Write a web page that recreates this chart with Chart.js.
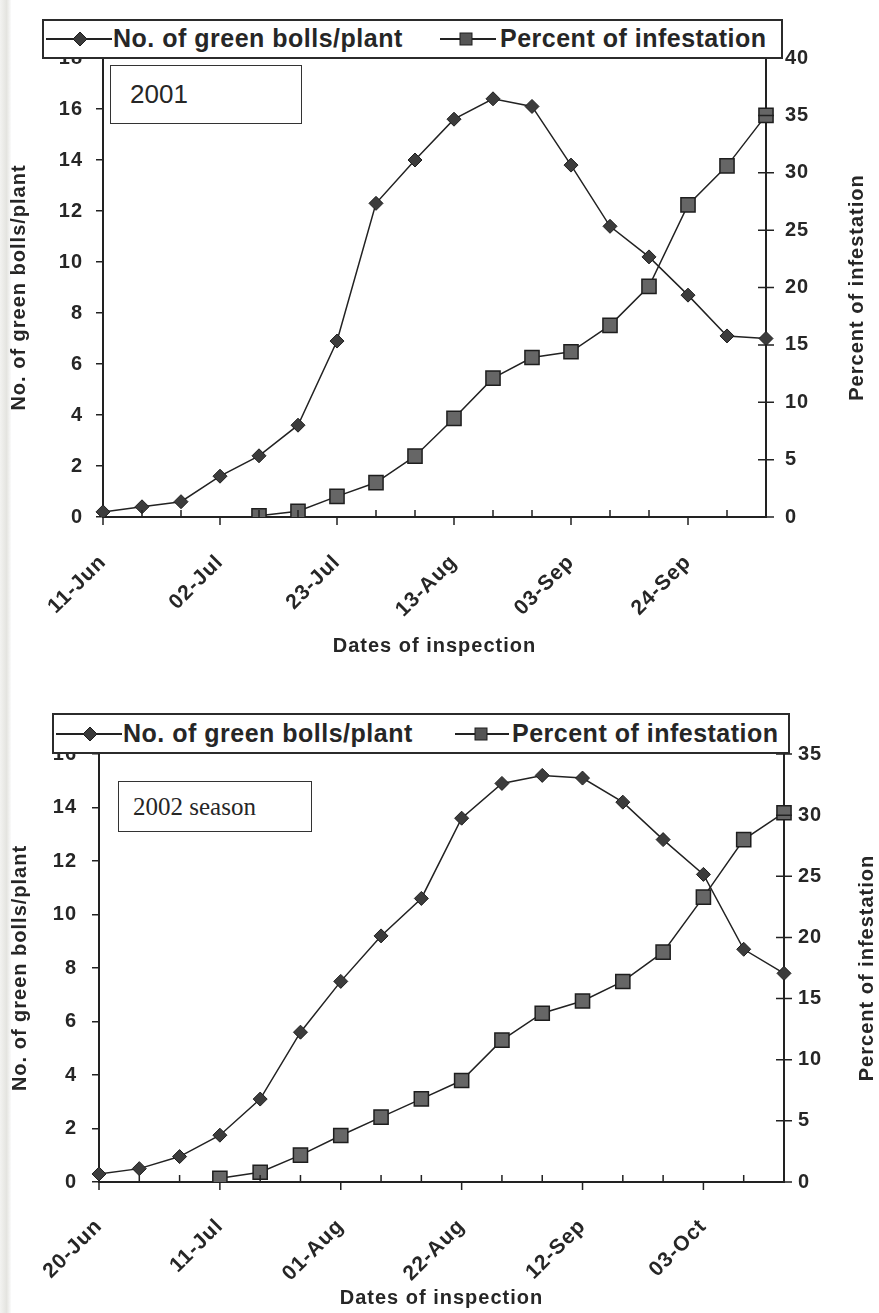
<!DOCTYPE html>
<html>
<head>
<meta charset="utf-8">
<script src="https://cdn.jsdelivr.net/npm/chart.js@4.4.1/dist/chart.umd.min.js"></script>
<style>
  body { margin: 0; background: #fff; width: 879px; height: 1313px; position: relative; overflow: hidden;
         font-family: "Liberation Sans", Arial, sans-serif; color: #262626; }
  .strip { position: absolute; left: 0; top: 0; width: 11px; height: 1313px;
           background: linear-gradient(to right, #f3f3f1, #e4e4e0 60%, #fbfbfb); }
  canvas { position: absolute; left: 0; }
  .legend { position: absolute; background: #fff; border: 2px solid #2b2b2b; box-sizing: border-box; z-index: 2; }
  .legend svg { position: absolute; top: 50%; transform: translateY(-50%); }
  .legend span { position: absolute; top: 50%; transform: translateY(-53%); font-weight: bold; font-size: 25px;
                 letter-spacing: 0.5px; white-space: nowrap; }
  .season { position: absolute; background: #fff; border: 1.5px solid #333; box-sizing: border-box; z-index: 2;
            display: flex; align-items: center; }
</style>
</head>
<body>
<div class="strip"></div>

<canvas id="chart2001" width="879" height="680" style="top:0"></canvas>
<canvas id="chart2002" width="879" height="633" style="top:680px"></canvas>

<div class="legend" style="left:42px; top:19px; width:741px; height:40px">
  <svg width="66" height="16" style="left:2px"><line x1="0" y1="8" x2="66" y2="8" stroke="#222" stroke-width="2"/><polygon points="34,1 41,8 34,15 27,8" fill="#3a3a3a" stroke="#1e1e1e"/></svg>
  <span style="left:69px">No. of green bolls/plant</span>
  <svg width="56" height="16" style="left:396px"><line x1="0" y1="8" x2="56" y2="8" stroke="#222" stroke-width="2"/><rect x="20" y="2" width="12" height="12" fill="#555" stroke="#1e1e1e"/></svg>
  <span style="left:456px">Percent of infestation</span>
</div>
<div class="season" style="left:110px; top:65px; width:192px; height:59px; font-size:26px; padding-left:19px">2001</div>

<div class="legend" style="left:52px; top:713px; width:738px; height:41px">
  <svg width="66" height="16" style="left:2px"><line x1="0" y1="8" x2="66" y2="8" stroke="#222" stroke-width="2"/><polygon points="34,1 41,8 34,15 27,8" fill="#3a3a3a" stroke="#1e1e1e"/></svg>
  <span style="left:69px">No. of green bolls/plant</span>
  <svg width="54" height="16" style="left:401px"><line x1="0" y1="8" x2="54" y2="8" stroke="#222" stroke-width="2"/><rect x="20" y="2" width="12" height="12" fill="#555" stroke="#1e1e1e"/></svg>
  <span style="left:458px">Percent of infestation</span>
</div>
<div class="season" style="left:118px; top:781px; width:194px; height:51px; font-size:25px; padding-left:14px; font-family:'Liberation Serif','Times New Roman',serif">2002 season</div>

<script>
// 2001 season - weekly inspections
const dates2001 = ['11-Jun', '18-Jun', '25-Jun', '02-Jul', '09-Jul', '16-Jul', '23-Jul', '30-Jul', '06-Aug',
                   '13-Aug', '20-Aug', '27-Aug', '03-Sep', '10-Sep', '17-Sep', '24-Sep', '01-Oct', '08-Oct'];
const shownDates2001 = ['11-Jun', '02-Jul', '23-Jul', '13-Aug', '03-Sep', '24-Sep'];
const bolls2001 = [0.2, 0.4, 0.6, 1.6, 2.4, 3.6, 6.9, 12.3, 14.0, 15.6, 16.4, 16.1, 13.8, 11.4, 10.2, 8.7, 7.1, 7.0];
const infest2001 = [null, null, null, null, 0.1, 0.5, 1.8, 3.0, 5.3, 8.6, 12.1, 13.9, 14.4, 16.7, 20.1, 27.2, 30.6, 35.0];

// 2002 season
const dates2002 = ['20-Jun', '27-Jun', '04-Jul', '11-Jul', '18-Jul', '25-Jul', '01-Aug', '08-Aug', '15-Aug',
                   '22-Aug', '29-Aug', '05-Sep', '12-Sep', '19-Sep', '26-Sep', '03-Oct', '10-Oct', '17-Oct'];
const shownDates2002 = ['20-Jun', '11-Jul', '01-Aug', '22-Aug', '12-Sep', '03-Oct'];
const bolls2002 = [0.3, 0.5, 0.95, 1.75, 3.1, 5.6, 7.5, 9.2, 10.6, 13.6, 14.9, 15.2, 15.1, 14.2, 12.8, 11.5, 8.7, 7.8];
const infest2002 = [null, null, null, 0.3, 0.8, 2.2, 3.8, 5.3, 6.8, 8.3, 11.6, 13.8, 14.8, 16.4, 18.8, 23.3, 28.0, 30.2];

// axis ranges
const bollsMax2001 = 18, infestMax2001 = 40;
const bollsMax2002 = 16, infestMax2002 = 35;

Chart.defaults.font.family = '"Liberation Sans", Arial, sans-serif';
Chart.defaults.color = '#262626';

const ink = '#222';
const rightTitle = 'Percent of infestation';

// x ticks: long ones below the axis under labelled dates, short ones inside elsewhere;
// right axis ticks cross the axis line; right title reads bottom to top like the left one
function tickMarks(shown, titleX) {
    return {
        id: 'tickMarks',
        beforeDraw(chart) { chart.ctx.letterSpacing = '1px'; },
        afterDraw(chart) {
            const { ctx, chartArea } = chart;
            const x = chart.scales.x, y1 = chart.scales.y1;
            ctx.save();
            ctx.strokeStyle = ink;
            ctx.lineWidth = 1.5;
            ctx.beginPath();
            chart.data.labels.forEach((lab, i) => {
                const px = x.getPixelForValue(i);
                ctx.moveTo(px, chartArea.bottom);
                ctx.lineTo(px, chartArea.bottom + (shown.includes(lab) ? 8 : -7));
            });
            y1.ticks.forEach((t, i) => {
                const py = y1.getPixelForTick(i);
                ctx.moveTo(chartArea.right - 8, py);
                ctx.lineTo(chartArea.right + 8, py);
            });
            ctx.stroke();

            ctx.translate(titleX, (chartArea.top + chartArea.bottom) / 2);
            ctx.rotate(-Math.PI / 2);
            ctx.font = 'bold 20px "Liberation Sans", Arial, sans-serif';
            ctx.fillStyle = '#262626';
            ctx.textAlign = 'center';
            ctx.textBaseline = 'middle';
            ctx.fillText(rightTitle, 0, 0);
            ctx.restore();
        }
    };
}

function makeChart(id, labels, shown, bolls, infest, geo) {
    const titleFont = { size: 20, weight: 'bold', lineHeight: 1.2 };
    const tickFont = { size: 20, weight: 'bold' };
    new Chart(document.getElementById(id), {
        type: 'line',
        data: {
            labels: labels,
            datasets: [{
                label: 'No. of green bolls/plant',
                data: bolls,
                yAxisID: 'y',
                borderColor: ink,
                borderWidth: 1.5,
                pointStyle: 'rectRot',
                pointRadius: 7,
                pointBackgroundColor: '#3c3c3c',
                pointBorderColor: '#1e1e1e',
                pointBorderWidth: 1
            }, {
                label: rightTitle,
                data: infest,
                yAxisID: 'y1',
                borderColor: ink,
                borderWidth: 1.5,
                pointStyle: 'rect',
                pointRadius: 10,
                pointBackgroundColor: '#666',
                pointBorderColor: '#1e1e1e',
                pointBorderWidth: 1.5
            }]
        },
        options: {
            responsive: false,
            animation: false,
            layout: { padding: { top: geo.top, left: 0, right: 0, bottom: 0 } },
            plugins: { legend: { display: false }, tooltip: { enabled: false } },
            scales: {
                x: {
                    type: 'category',
                    offset: false,
                    afterFit: s => { s.height = geo.xHeight; },
                    grid: { display: false },
                    border: { display: true, color: ink, width: 2 },
                    ticks: {
                        autoSkip: false, minRotation: 45, maxRotation: 45, padding: geo.xPad,
                        font: { size: 21, weight: 'bold' },
                        callback: (v, i) => shown.includes(labels[i]) ? labels[i] : ''
                    },
                    title: { display: true, text: 'Dates of inspection', font: titleFont, padding: { top: 0, bottom: geo.xTitlePad } }
                },
                y: {
                    position: 'left',
                    min: 0, max: geo.yMax,
                    afterFit: s => { s.width = geo.left; },
                    grid: { drawOnChartArea: false, tickLength: 7, color: ink, lineWidth: 1.5 },
                    border: { display: true, color: ink, width: 2 },
                    ticks: { stepSize: 2, padding: geo.yPad, font: tickFont },
                    title: { display: true, text: 'No. of green bolls/plant', font: titleFont, padding: { top: geo.yTitlePad, bottom: 0 } }
                },
                y1: {
                    position: 'right',
                    min: 0, max: geo.y1Max,
                    afterFit: s => { s.width = geo.right; },
                    grid: { display: false },
                    border: { display: true, color: ink, width: 2 },
                    ticks: { stepSize: 5, padding: geo.y1Pad, font: tickFont }
                }
            }
        },
        plugins: [tickMarks(shown, geo.y1TitleX)]
    });
}

makeChart('chart2001', dates2001, shownDates2001, bolls2001, infest2001, {
    top: 58, left: 103, right: 113, xHeight: 163, xPad: 25, xTitlePad: 22,
    yPad: 13, yTitlePad: 7, y1Pad: 11, y1TitleX: 857,
    yMax: bollsMax2001, y1Max: infestMax2001
});

makeChart('chart2002', dates2002, shownDates2002, bolls2002, infest2002, {
    top: 74, left: 99, right: 95, xHeight: 131, xPad: 24, xTitlePad: 3,
    yPad: 15, yTitlePad: 8, y1Pad: 6, y1TitleX: 867,
    yMax: bollsMax2002, y1Max: infestMax2002
});
</script>
</body>
</html>
